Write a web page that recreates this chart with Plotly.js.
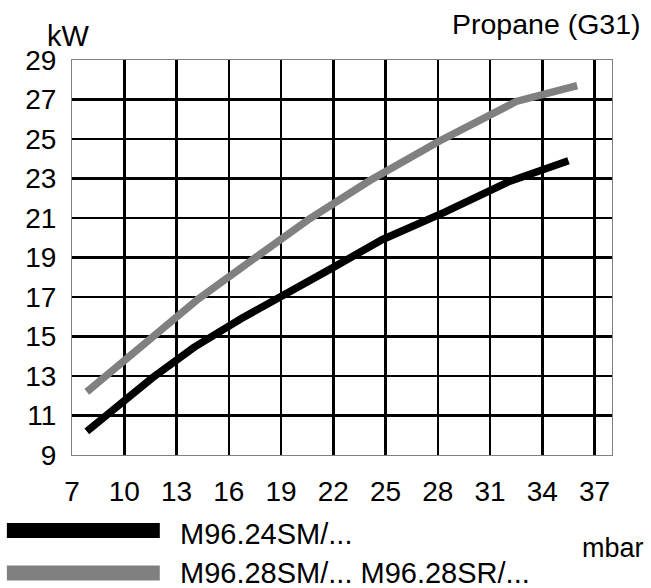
<!DOCTYPE html>
<html>
<head>
<meta charset="utf-8">
<script src="https://cdn.plot.ly/plotly-3.0.1.min.js"></script>
<style>html,body{margin:0;padding:0;background:#fff;}#chart{width:651px;height:588px;}</style>
</head>
<body>
<div id="chart"></div>
<script>
// Data
const seriesNames = ["M96.24SM/...", "M96.28SM/... M96.28SR/..."];
const pressureA = [7.85, 11.6, 14.0, 16.7, 21.8, 24.8, 28.4, 32.1, 35.5];
const powerA    = [10.2, 12.9, 14.45, 15.9, 18.4, 19.9, 21.3, 22.85, 23.9];
const pressureB = [7.85, 11.5, 14.25, 17.3, 20.7, 24.1, 28.1, 32.5, 36.0];
const powerB    = [12.2, 14.85, 16.9, 18.85, 21.0, 22.9, 24.9, 26.9, 27.7];
const xTicks = [7, 10, 13, 16, 19, 22, 25, 28, 31, 34, 37];
const yTicks = [9, 11, 13, 15, 17, 19, 21, 23, 25, 27, 29];
const colors = ["#000000", "#808080"];
const titleText = "Propane (G31)";
const yUnit = "kW";
const xUnit = "mbar";

const FONT = "Liberation Sans, Arial, Helvetica, sans-serif";

const traces = [
  {x: pressureA, y: powerA, mode: "lines", name: seriesNames[0],
   line: {color: colors[0], width: 7.5}, showlegend: false},
  {x: pressureB, y: powerB, mode: "lines", name: seriesNames[1],
   line: {color: colors[1], width: 7.5}, showlegend: false}
];

const legendY = [-0.1911, -0.2987];
const legendTextY = [-0.2005, -0.2995];
const shapes = seriesNames.map((n, i) => ({
  type: "line", xref: "paper", yref: "paper",
  x0: -0.1206, x1: 0.1626, y0: legendY[i], y1: legendY[i],
  line: {color: colors[i], width: 15}
}));
const annotations = seriesNames.map((n, i) => ({
  text: n, xref: "paper", yref: "paper", x: 0.1970, y: legendTextY[i],
  xanchor: "left", yanchor: "middle", showarrow: false,
  font: {family: FONT, size: 29, color: "#000"}
}));
annotations.push({text: xUnit, xref: "paper", yref: "paper", x: 1.0015, y: -0.236,
  xanchor: "center", yanchor: "middle", showarrow: false,
  font: {family: FONT, size: 27, color: "#000"}});
annotations.push({text: yUnit, xref: "paper", yref: "paper", x: -0.006, y: 1.062,
  xanchor: "center", yanchor: "middle", showarrow: false,
  font: {family: FONT, size: 29, color: "#000"}});
annotations.push({text: titleText, xref: "paper", yref: "paper", x: 1.058, y: 1.090,
  xanchor: "right", yanchor: "middle", showarrow: false,
  font: {family: FONT, size: 28.5, color: "#000"}});

const layout = {
  width: 651, height: 588,
  margin: {l: 72, r: 39, t: 60, b: 133, pad: 0},
  paper_bgcolor: "#fff", plot_bgcolor: "#fff",
  font: {family: FONT, size: 28, color: "#000"},
  xaxis: {range: [7, 38], tickvals: xTicks, ticktext: xTicks.map(String),
    showgrid: true, gridcolor: "#000", gridwidth: 2.5, zeroline: false,
    showline: true, mirror: true, linecolor: "#808080", linewidth: 1,
    ticks: "", ticklabelstandoff: 11, tickfont: {family: FONT, size: 28, color: "#000"}},
  yaxis: {range: [9, 29], tickvals: yTicks, ticktext: yTicks.map(String),
    showgrid: true, gridcolor: "#000", gridwidth: 2.5, zeroline: false,
    showline: true, mirror: true, linecolor: "#808080", linewidth: 1,
    ticks: "", ticklabelstandoff: 9, tickfont: {family: FONT, size: 28, color: "#000"}},
  shapes: shapes,
  annotations: annotations
};

Plotly.newPlot("chart", traces, layout, {staticPlot: true, displayModeBar: false});
</script>
</body>
</html>
